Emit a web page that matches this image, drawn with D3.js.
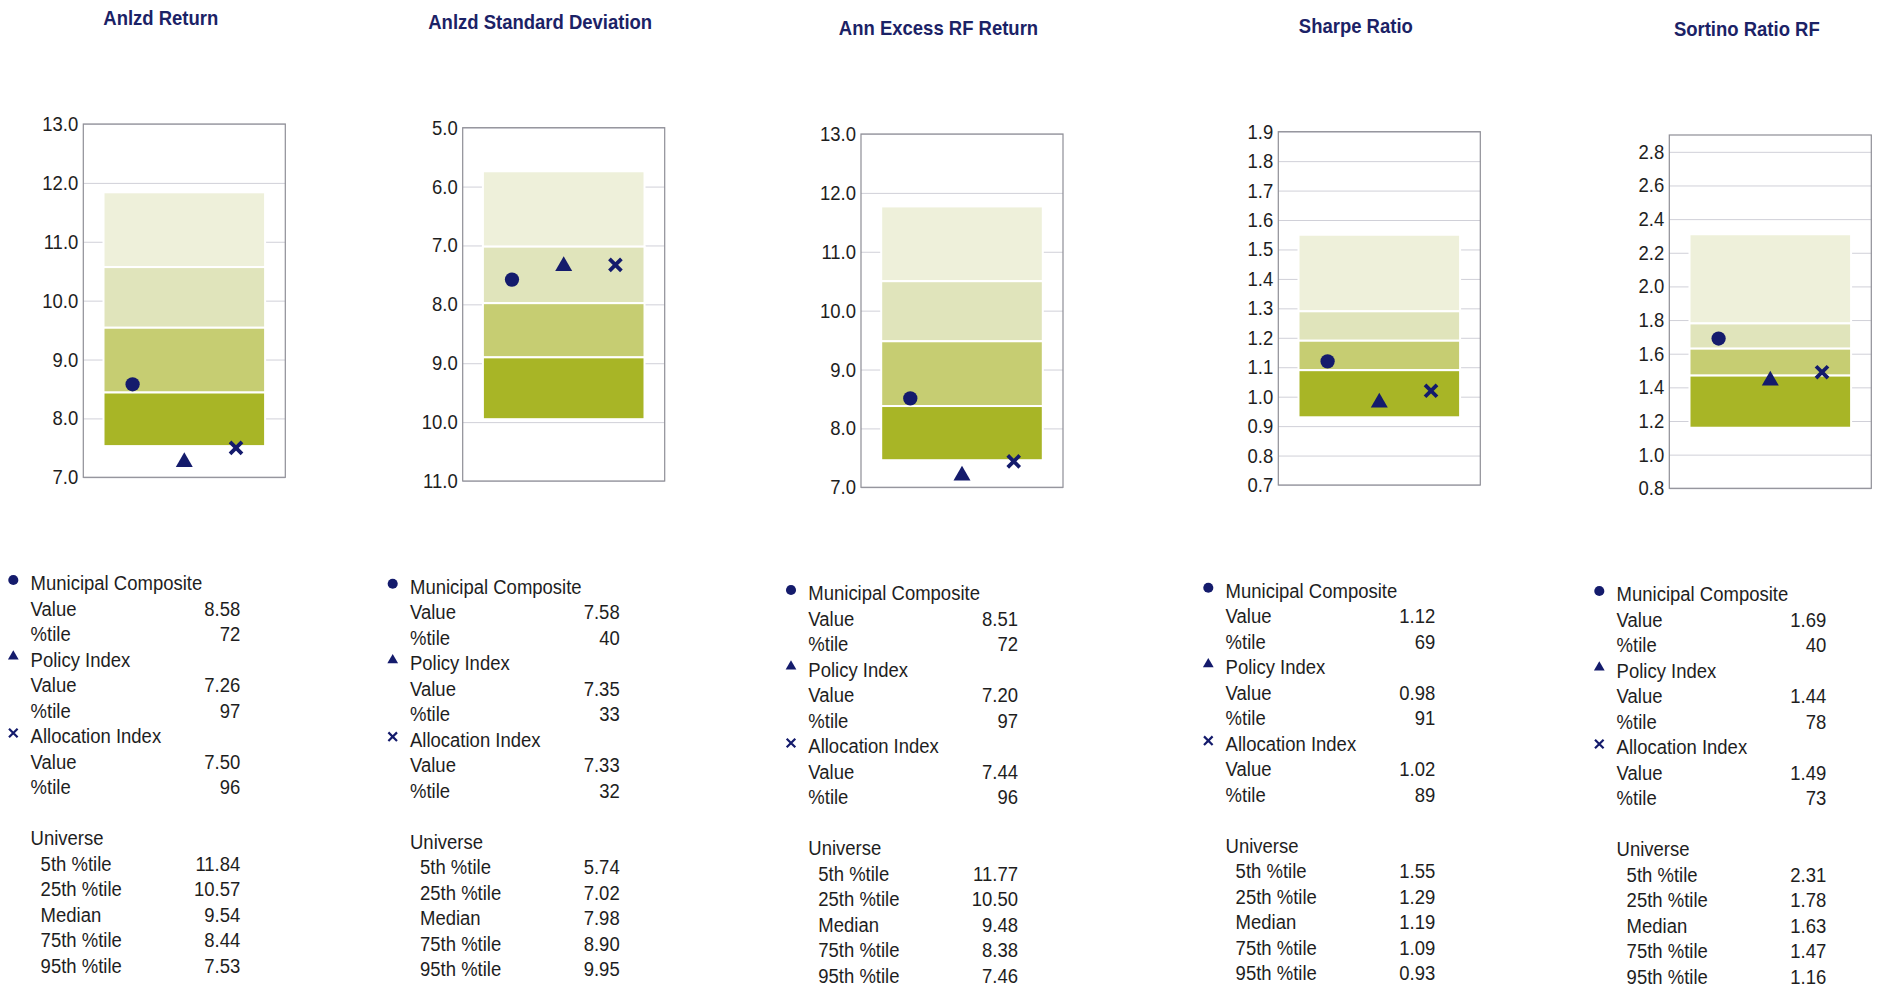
<!DOCTYPE html>
<html><head><meta charset="utf-8">
<script src="https://cdn.jsdelivr.net/npm/d3@7"></script>
<style>
body{margin:0;background:#fff;}
svg{display:block;font-family:Arial,"Liberation Sans",sans-serif;}
</style>
</head><body>
<svg id="chart" width="1877" height="987"></svg>
<script>
// ---------------- data ----------------
const metrics = ["Anlzd Return","Anlzd Standard Deviation","Ann Excess RF Return","Sharpe Ratio","Sortino Ratio RF"];
const seriesNames = ["Municipal Composite","Policy Index","Allocation Index"];
const compositeValues  = [8.58, 7.58, 8.51, 1.12, 1.69];
const compositePctile  = [72, 40, 72, 69, 40];
const policyValues     = [7.26, 7.35, 7.20, 0.98, 1.44];
const policyPctile     = [97, 33, 97, 91, 78];
const allocationValues = [7.50, 7.33, 7.44, 1.02, 1.49];
const allocationPctile = [96, 32, 96, 89, 73];
const universeLabels = ["5th %tile","25th %tile","Median","75th %tile","95th %tile"];
const pct5   = [11.84, 5.74, 11.77, 1.55, 2.31];
const pct25  = [10.57, 7.02, 10.50, 1.29, 1.78];
const median = [9.54, 7.98, 9.48, 1.19, 1.63];
const pct75  = [8.44, 8.90, 8.38, 1.09, 1.47];
const pct95  = [7.53, 9.95, 7.46, 0.93, 1.16];
// axis domains: [bottom, top]
const axisDomains = [[7,13],[11,5],[7,13],[0.7,1.9],[0.8,2.9]];
const tickLabels = [
  ["7.0","8.0","9.0","10.0","11.0","12.0","13.0"],
  ["5.0","6.0","7.0","8.0","9.0","10.0","11.0"],
  ["7.0","8.0","9.0","10.0","11.0","12.0","13.0"],
  ["0.7","0.8","0.9","1.0","1.1","1.2","1.3","1.4","1.5","1.6","1.7","1.8","1.9"],
  ["0.8","1.0","1.2","1.4","1.6","1.8","2.0","2.2","2.4","2.6","2.8"]
];

// ---------------- layout / style ----------------
const panelOrigins = [[83.3,124],[462.7,127.7],[861,134],[1278.3,131.7],[1669.3,135]];
const frameW = 202, frameH = 353.3;
const bandColors = ["#eef0da","#e0e4bb","#c6cd72","#a8b526"];
const navy = "#141b6c";
const titleColor = "#1b2266";
const textColor = "#1e1e1e";
const SY = 1.1;

const svg = d3.select("#chart");

function txt(g, x, y, s, opts = {}) {
  return g.append("text")
    .attr("transform", `translate(${x},${y}) scale(1,${opts.sy || SY})`)
    .attr("text-anchor", opts.anchor || "start")
    .attr("font-size", opts.size || 18.5)
    .attr("font-weight", opts.weight || "normal")
    .attr("fill", opts.fill || textColor)
    .text(s);
}

const symbolFor = [d3.symbolCircle, d3.symbolTriangle, d3.symbolTimes];

metrics.forEach((metric, i) => {
  const [ox, oy] = panelOrigins[i];
  const g = svg.append("g").attr("transform", `translate(${ox},${oy})`);

  const y = d3.scaleLinear().domain(axisDomains[i]).range([frameH, 0]);
  const xBand = d3.scaleBand().domain(["Universe"]).range([0, frameW]).paddingOuter(0.125).paddingInner(0);
  const bx0 = xBand("Universe"), bx1 = bx0 + xBand.bandwidth();
  const xPt = d3.scalePoint().domain(seriesNames).range([bx0, bx1]).padding(0.5625);

  // grid + tick labels
  const ticks = tickLabels[i].map(Number);
  const ax = d3.axisLeft(y).tickValues(ticks).tickFormat((d, k) => tickLabels[i][k])
    .tickSize(-frameW).tickPadding(5);
  const ag = g.append("g").call(ax).attr("font-size", null).attr("font-family", null);
  ag.select(".domain").remove();
  ag.selectAll(".tick line").attr("stroke", "#d0d0d8").attr("stroke-width", 1);
  ag.selectAll(".tick text").attr("fill", textColor).attr("font-size", 18.5)
    .attr("transform", `scale(1,${SY})`);

  // universe bands
  const bounds = [pct5[i], pct25[i], median[i], pct75[i], pct95[i]];
  const bands = d3.range(4).map(k => ({a: bounds[k], b: bounds[k + 1], c: bandColors[k]}));
  g.append("g").selectAll("rect").data(bands).join("rect")
    .attr("x", bx0).attr("width", bx1 - bx0)
    .attr("y", d => Math.min(y(d.a), y(d.b)))
    .attr("height", d => Math.abs(y(d.a) - y(d.b)))
    .attr("fill", d => d.c)
    .attr("stroke", "#ffffff").attr("stroke-width", 2);

  // frame
  g.append("rect").attr("x", 0).attr("y", 0).attr("width", frameW).attr("height", frameH)
    .attr("fill", "none").attr("stroke", "#8e8e96").attr("stroke-width", 1.2);

  // markers
  const vals = [compositeValues[i], policyValues[i], allocationValues[i]];
  const pts = seriesNames.map((n, k) => ({n, v: vals[k], k}));
  const sizes = [160, 125, 95];
  g.append("g").selectAll("path").data(pts).join("path")
    .attr("transform", d => `translate(${xPt(d.n)},${y(d.v)})`)
    .attr("d", d => d3.symbol(symbolFor[d.k], sizes[d.k])())
    .attr("fill", d => d.k === 2 ? "none" : navy)
    .attr("stroke", d => d.k === 2 ? navy : "none")
    .attr("stroke-width", 3.8);

  // title
  txt(g, 77.5, -99, metric, {anchor: "middle", weight: "bold", fill: titleColor, size: 18.5, sy: 1.12});

  // legend table
  const rows = [];
  const pcts = [compositePctile[i], policyPctile[i], allocationPctile[i]];
  seriesNames.forEach((n, k) => {
    rows.push({label: n, marker: k});
    rows.push({label: "Value", val: vals[k].toFixed(2)});
    rows.push({label: "%tile", val: String(pcts[k])});
  });
  rows.push({label: ""});
  rows.push({label: "Universe"});
  universeLabels.forEach((u, k) => rows.push({label: u, val: bounds[k].toFixed(2), indent: true}));

  const ly0 = 459, pitch = 25.5;
  const lg = g.append("g");
  const legSizes = [80, 50, 50];
  rows.forEach((r, k) => {
    const cy = ly0 + k * pitch;
    const base = cy + 7;
    if (r.label) txt(lg, r.indent ? -42.7 : -52.7, base, r.label);
    if (r.val !== undefined) txt(lg, 157, base, r.val, {anchor: "end"});
    if (r.marker !== undefined) {
      lg.append("path")
        .attr("transform", `translate(-70,${cy - 3})`)
        .attr("d", d3.symbol(symbolFor[r.marker], legSizes[r.marker])())
        .attr("fill", r.marker === 2 ? "none" : navy)
        .attr("stroke", r.marker === 2 ? navy : "none")
        .attr("stroke-width", 2.2);
    }
  });
});
</script>
</body></html>
